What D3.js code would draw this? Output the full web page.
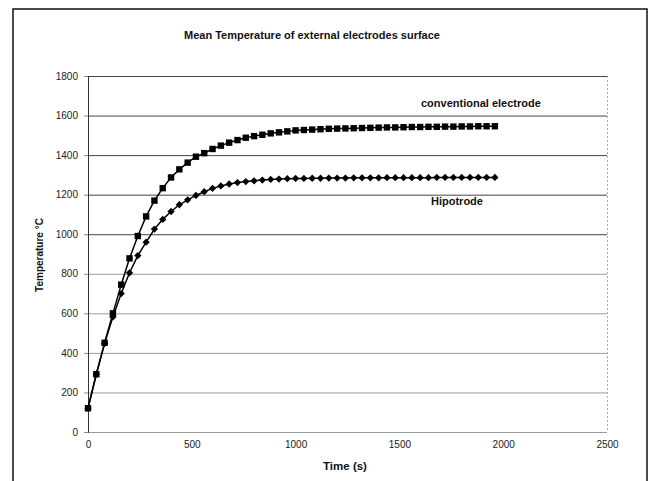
<!DOCTYPE html>
<html><head><meta charset="utf-8">
<script src="https://cdn.jsdelivr.net/npm/d3@7"></script>
<style>
body{margin:0;background:#fff;}
svg{display:block;font-family:"Liberation Sans",Arial,sans-serif;}
</style></head>
<body><svg id="c" width="653" height="481"></svg>
<script>
const times = d3.range(0, 2000, 40);
const conventional = [120,292,451,600,745,878,991,1090,1170,1233,1287,1328,1362,1392,1410,1431,1448,1463,1476,1488,1496,1503,1510,1515,1520,
  1525,1527,1529,1531,1533,1534,1535,1536,1537,1538,1539,1540,1540,1541,1542,1542,1543,1543,1544,1544,1545,1545,1546,1546,1546];
const hipotrode = [120,292,448,582,700,805,892,960,1026,1075,1115,1149,1174,1196,1215,1232,1244,1254,1261,1266,1270,1274,1277,1279,1281,
  1282,1282,1283,1283,1284,1284,1284,1285,1285,1285,1285,1286,1286,1286,1286,1286,1286,1287,1287,1287,1287,1287,1287,1287,1287];
const yTicks = [0,200,400,600,800,1000,1200,1400,1600,1800];
const xTicks = [0,500,1000,1500,2000,2500];
const title = "Mean Temperature of external electrodes surface";
const seriesLabels = ["conventional electrode","Hipotrode"];

const svg = d3.select("#c");
const L=88, R=607, T=76, B=432;
const x = d3.scaleLinear().domain([0,2500]).range([L,R]);
const y = d3.scaleLinear().domain([0,1800]).range([B,T]);

// outer frame
svg.append("rect").attr("x",13).attr("y",9).attr("width",634).attr("height",490)
  .attr("fill","none").attr("stroke","#111").attr("stroke-width",1.5);

// gridlines
svg.append("g").selectAll("line").data(yTicks).join("line")
  .attr("x1",L).attr("x2",R).attr("y1",d=>y(d)+0.5).attr("y2",d=>y(d)+0.5)
  .attr("stroke",d=>d>=1000?"#444":"#999").attr("stroke-width",1);
// right border
svg.append("line").attr("x1",R+0.5).attr("x2",R+0.5).attr("y1",T).attr("y2",B)
  .attr("stroke","#aaa").attr("stroke-dasharray","2,2");

// axes
const fmt = d3.format("d");
const ya = svg.append("g").attr("transform",`translate(${L},0)`)
  .call(d3.axisLeft(y).tickValues(yTicks).tickFormat(fmt).tickSize(4).tickPadding(6));
ya.select(".domain").attr("stroke","#333");
ya.selectAll(".tick line").attr("stroke","#888");
ya.selectAll("text").attr("font-size",10).attr("fill","#222");

const xa = svg.append("g").attr("transform",`translate(0,${B})`)
  .call(d3.axisBottom(x).tickValues(xTicks).tickFormat(fmt).tickSize(0).tickPadding(9));
xa.select(".domain").remove();
xa.selectAll("text").attr("font-size",10).attr("fill","#222");

// lines
const line = d3.line().x((d,i)=>x(times[i])).y(d=>y(d));
[conventional, hipotrode].forEach(s=>{
  svg.append("path").datum(s).attr("d",line).attr("fill","none")
    .attr("stroke","#000").attr("stroke-width",1.5);
});
// markers
svg.append("g").selectAll("rect").data(conventional).join("rect")
  .attr("x",(d,i)=>x(times[i])-3.2).attr("y",d=>y(d)-3.2)
  .attr("width",6.4).attr("height",6.4).attr("fill","#000");
const diamond = d3.symbol().type(d3.symbolDiamond2).size(34);
svg.append("g").selectAll("path").data(hipotrode).join("path")
  .attr("transform",(d,i)=>`translate(${x(times[i])},${y(d)})`)
  .attr("d",diamond).attr("fill","#000");

// texts
svg.append("text").attr("x",312).attr("y",39).attr("text-anchor","middle")
  .attr("font-size",11).attr("font-weight","bold").attr("fill","#111").text(title);
svg.append("text").attr("x",421).attr("y",107).attr("font-size",11)
  .attr("font-weight","bold").attr("fill","#111").text(seriesLabels[0]);
svg.append("text").attr("x",431).attr("y",205).attr("font-size",11)
  .attr("font-weight","bold").attr("fill","#111").text(seriesLabels[1]);
svg.append("text").attr("x",345).attr("y",470).attr("text-anchor","middle")
  .attr("font-size",11.5).attr("font-weight","bold").attr("fill","#111").text("Time (s)");
svg.append("text").attr("transform","translate(43,255) rotate(-90)").attr("text-anchor","middle")
  .attr("font-size",10).attr("font-weight","bold").attr("fill","#111").text("Temperature °C");
</script></body></html>
